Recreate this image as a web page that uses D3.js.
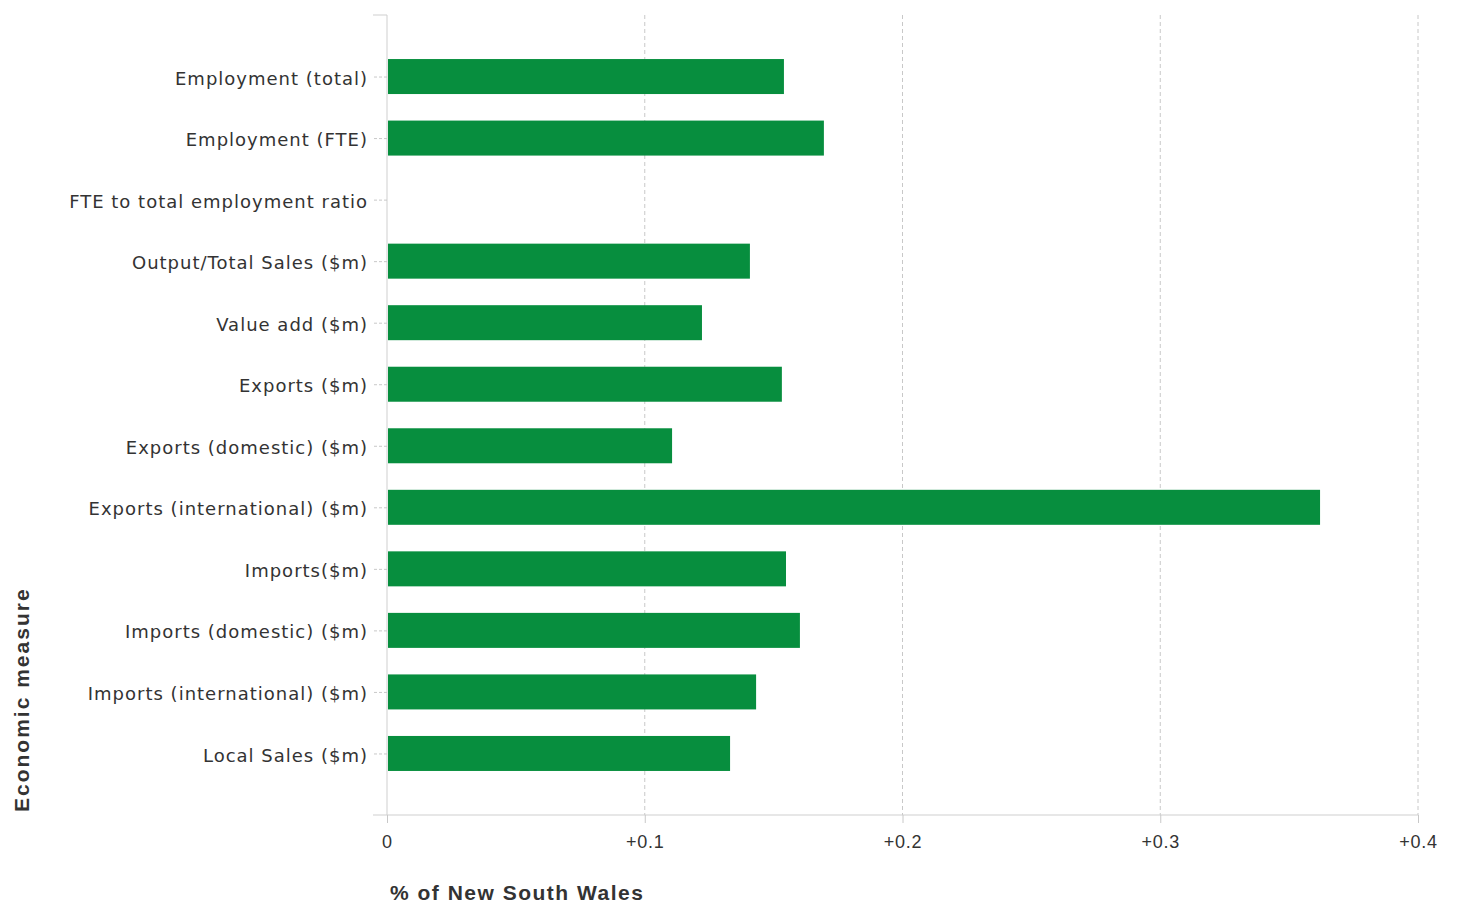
<!DOCTYPE html>
<html><head><meta charset="utf-8">
<script src="https://cdn.jsdelivr.net/npm/d3@7"></script>
<style>body{margin:0;background:#fff}</style>
</head><body>
<svg id="c" width="1457" height="909"></svg>
<script>
const categories = ["Employment (total)","Employment (FTE)","FTE to total employment ratio","Output/Total Sales ($m)","Value add ($m)","Exports ($m)","Exports (domestic) ($m)","Exports (international) ($m)","Imports($m)","Imports (domestic) ($m)","Imports (international) ($m)","Local Sales ($m)"];
const values = [0.154,0.1695,null,0.1408,0.1222,0.1532,0.1106,0.362,0.1548,0.1602,0.1432,0.1331];
const xTicks = [0,0.1,0.2,0.3,0.4];
const xTickLabels = ["0","+0.1","+0.2","+0.3","+0.4"];
const xTitle = "% of New South Wales";
const yTitle = "Economic measure";

const svg = d3.select("#c");
const L=387,R=1418,T=15,B=815;
const x = d3.scaleLinear().domain([0,0.4]).range([L,R]);
const y = d3.scalePoint().domain(categories).range([T,B]).padding(1);
const barH = 35;
const font = "'Liberation Sans', Arial, sans-serif";
const lblFont = "'DejaVu Sans', Verdana, sans-serif";

// grid
svg.append("g").selectAll("line").data(xTicks.slice(1)).join("line")
  .attr("x1",d=>x(d)).attr("x2",d=>x(d)).attr("y1",T).attr("y2",B)
  .attr("stroke","#c8c8c8").attr("stroke-dasharray","4,3").attr("stroke-width",1);

// bars
svg.append("g").selectAll("rect").data(categories.map((c,i)=>({c,v:values[i]})).filter(d=>d.v!=null)).join("rect")
  .attr("x",x(0)+1).attr("y",d=>y(d.c)-barH/2).attr("width",d=>x(d.v)-x(0)-1).attr("height",barH)
  .attr("fill","#078e3e");

// y axis
const ya = svg.append("g").attr("transform",`translate(${L},0)`)
  .call(d3.axisLeft(y).tickSize(14).tickPadding(5));
ya.select(".domain").attr("d",`M-14,${T}H0V${B}`).attr("stroke","#cfcfcf");
ya.selectAll(".tick line").attr("stroke","#c8c8c8").attr("stroke-dasharray","3,2");
ya.selectAll(".tick text").attr("font-family",lblFont).attr("font-size",18).attr("letter-spacing","1px").attr("fill","#333").attr("dy","0.42em");

// x axis
const xa = svg.append("g").attr("transform",`translate(0,${B})`)
  .call(d3.axisBottom(x).tickValues(xTicks).tickFormat((d,i)=>xTickLabels[i]).tickSize(8).tickPadding(12));
xa.select(".domain").attr("d",`M${L-14},0H${R}`).attr("stroke","#cfcfcf");
xa.selectAll(".tick line").attr("stroke","#c8c8c8");
xa.selectAll(".tick text").attr("font-family",font).attr("font-size",18).attr("letter-spacing","0.8px").attr("fill","#333");

// titles
svg.append("text").attr("x",390).attr("y",900).text(xTitle)
  .attr("font-family",font).attr("font-weight","bold").attr("font-size",21).attr("letter-spacing","1.5px").attr("fill","#333");
svg.append("text").attr("transform","translate(29,812) rotate(-90)").text(yTitle)
  .attr("font-family",font).attr("font-weight","bold").attr("font-size",21).attr("letter-spacing","2px").attr("fill","#333");
</script>
</body></html>
